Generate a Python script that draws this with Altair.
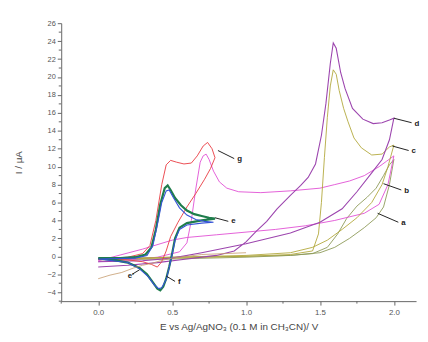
import altair as alt
import pandas as pd

# ---- data (E in V, I in uA) ----
d_E = [0.0,0.2,0.4,0.6,0.8,0.92,1.0,1.07,1.14,1.21,1.3,1.37,1.42,1.47,1.51,1.54,1.57,1.59,1.61,1.64,1.67,1.72,1.79,1.86,1.92,1.97,2.0,
       1.97,1.92,1.85,1.75,1.65,1.5,1.3,1.0,0.7,0.5,0.3,0.0]
d_I = [-1.2,-1.0,-0.7,-0.3,0.1,0.6,1.6,2.8,3.9,5.3,6.8,7.9,8.8,10.3,13.5,17,21.5,23.8,23.2,20.5,18.7,16.5,15.3,14.8,14.9,15.2,15.4,
       13,10.8,9.3,7.2,5.3,3.8,2.6,1.4,0.4,-0.2,-0.5,-0.6]

c_E = [0,0.5,1.0,1.3,1.45,1.49,1.51,1.53,1.55,1.57,1.59,1.61,1.63,1.66,1.69,1.73,1.78,1.85,1.92,1.97,2.0,
       1.96,1.92,1.85,1.75,1.65,1.55,1.45,1.3,1.0,0.5,0.0]
c_I = [-0.3,-0.2,0,0.2,0.6,2.5,6,11,15.5,19,20.8,20.3,18.5,16.5,15,13.2,12.1,11.3,11.4,12.2,12.4,
       10,8,6,4.3,3.0,1.8,1.0,0.4,0.1,-0.1,-0.3]

b_E = [0,0.2,0.4,0.55,0.6,0.63,0.66,0.69,0.71,0.73,0.75,0.78,0.82,0.87,0.95,1.1,1.3,1.5,1.6,1.7,1.8,1.9,1.95,2.0,
       1.96,1.9,1.8,1.6,1.4,1.2,1.0,0.8,0.6,0.5,0.3,0.0]
b_I = [-0.6,-0.4,-0.1,0.5,1.5,4,7.5,10.5,11.2,11.4,10.8,9.5,8.3,7.6,7.2,7.1,7.3,7.6,8.0,8.4,9,10,10.6,11.2,
       8,5.8,4.8,4.0,3.4,3.0,2.7,2.4,2.1,1.8,0.8,-0.5]

a_E = [0,0.5,1.0,1.3,1.45,1.55,1.62,1.68,1.75,1.82,1.88,1.93,1.97,2.0,
       1.97,1.93,1.88,1.8,1.7,1.6,1.5,1.3,1.0,0.5,0]
a_I = [-0.4,-0.3,-0.1,0.1,0.3,1.0,2.5,4.2,5.6,6.6,7.6,9,10.2,10.8,
       8,5.5,4.3,3.2,2.0,1.0,0.4,0.1,0,-0.1,-0.3]

g_E = [0,0.2,0.3,0.35,0.39,0.43,0.46,0.49,0.53,0.58,0.63,0.67,0.71,0.74,0.77,0.79,
       0.76,0.72,0.66,0.6,0.54,0.49,0.46,0.43,0.4,0.36,0.3,0.2,0.0]
g_I = [-0.3,-0.1,0.3,1.2,4,8,10.2,10.7,10.5,10.3,10.4,11.2,12.3,12.7,12,11,
       9.8,8.6,7,5.5,3.8,2.2,0.6,-0.6,-1.2,-0.9,-0.6,-0.4,-0.3]

e_E = [0,0.15,0.25,0.32,0.36,0.39,0.42,0.45,0.47,0.49,0.52,0.56,0.6,0.65,0.7,0.75,0.79,
       0.7,0.6,0.55,0.52,0.5,0.48,0.46,0.44,0.42,0.4,0.37,0.33,0.28,0.2,0.1,0]
e_I = [-0.2,-0.2,-0.1,0.2,1.0,3,5.8,7.6,7.9,7.4,6.5,5.7,5.1,4.7,4.5,4.3,4.2,
       4.0,3.7,3.2,2.0,0.3,-1.2,-2.5,-3.4,-3.8,-3.6,-2.9,-2.0,-1.3,-0.7,-0.4,-0.2]

f_E = [0,0.25,0.33,0.37,0.4,0.43,0.46,0.48,0.51,0.55,0.6,0.66,0.72,0.78,
       0.7,0.6,0.55,0.52,0.5,0.48,0.46,0.43,0.41,0.38,0.34,0.28,0.2,0.0]
f_I = [-0.3,-0.2,0.1,1.2,3.5,6.0,7.3,7.4,6.5,5.4,4.6,4.1,3.9,3.8,
       3.7,3.5,3.0,1.8,0.2,-1.3,-2.6,-3.5,-3.6,-3.2,-2.3,-1.4,-0.7,-0.3]

h_E = [0,0.08,0.16,0.24,0.3,0.36,0.42,0.5,0.7,1.0]
h_I = [-2.5,-2.1,-1.8,-1.3,-1.0,-0.8,-0.5,-0.2,0.2,0.4]

series_names = ["a", "b", "c", "d", "g", "e", "f", "h"]
series_E = [a_E, b_E, c_E, d_E, g_E, e_E, f_E, h_E]
series_I = [a_I, b_I, c_I, d_I, g_I, e_I, f_I, h_I]
series_colors = ["#8d9a58", "#e04fd4", "#b2a83c", "#9c45ae", "#e8383f", "#1f7d4c", "#3553d6", "#c49a6c"]
series_widths = [0.9, 0.9, 0.9, 1.1, 0.9, 2.2, 1.1, 0.8]

# labels and leader lines
lab_text = ["d", "c", "b", "a", "g", "e", "f", "e'"]
lab_E = [2.14, 2.12, 2.07, 2.05, 0.94, 0.9, 0.54, 0.2]
lab_I = [14.8, 11.7, 7.3, 3.7, 10.8, 3.9, -2.9, -2.2]
lead_E1 = [2.0, 1.99, 1.93, 1.89, 0.81, 0.79, 0.46, 0.28]
lead_I1 = [15.4, 12.3, 8.1, 4.8, 11.8, 4.3, -2.2, -1.5]
lead_E2 = [2.12, 2.1, 2.05, 2.03, 0.92, 0.88, 0.52, 0.23]
lead_I2 = [14.9, 11.8, 7.4, 3.8, 10.9, 3.9, -2.8, -2.0]

x_major = [0.0, 0.5, 1.0, 1.5, 2.0]
x_minor = [-0.25, 0.25, 0.75, 1.25, 1.75]
y_major = list(range(-4, 27, 2))
y_minor = list(range(-5, 26, 2))

W, H = 360, 282

rows = []
for n, Es, Is in zip(series_names, series_E, series_I):
    for k, (e, i) in enumerate(zip(Es, Is)):
        rows.append({"s": n, "k": k, "E": e, "I": i})
df = pd.DataFrame(rows)

xs = alt.Scale(domain=[-0.25, 2.15], nice=False, zero=False)
ys = alt.Scale(domain=[-5, 26], nice=False, zero=False)

font = "Liberation Sans"

x_axis = alt.Axis(values=x_major, format=".1f", title="E vs Ag/AgNO₃ (0.1 M in CH₃CN)/ V",
                  grid=False, tickSize=4, labelPadding=4, titlePadding=5,
                  labelFontSize=8, titleFontSize=10, titleFontWeight="normal",
                  labelColor="#555", titleColor="#444", domainColor="#666", tickColor="#666",
                  labelFont=font, titleFont=font)
y_axis = alt.Axis(values=y_major, title="I / μA", grid=False, tickSize=4, labelPadding=2,
                  labelOverlap=False, labelFlush=False,
                  titleX=-38, labelFontSize=7.5, titleFontSize=10, titleFontWeight="normal",
                  labelColor="#555", titleColor="#444", domainColor="#666", tickColor="#666",
                  labelFont=font, titleFont=font)

def X(f):
    return alt.X(f, type="quantitative", scale=xs, axis=x_axis)

def Y(f):
    return alt.Y(f, type="quantitative", scale=ys, axis=y_axis)

layers = []
for idx, n in enumerate(series_names):
    layers.append(
        alt.Chart(df[df.s == n]).mark_line(
            color=series_colors[idx], strokeWidth=series_widths[idx], clip=True
        ).encode(x=X("E"), y=Y("I"), order="k:Q")
    )

xm = pd.DataFrame({"E": x_minor})
ym = pd.DataFrame({"I": y_minor})
minor_x = alt.Chart(xm).mark_rule(color="#666", strokeWidth=1).encode(
    x=X("E"), y=alt.value(H), y2=alt.value(H + 2.5))
minor_y = alt.Chart(ym).mark_rule(color="#666", strokeWidth=1).encode(
    y=Y("I"), x=alt.value(0), x2=alt.value(-2.5))

lead = pd.DataFrame({"E1": lead_E1, "I1": lead_I1, "E2": lead_E2, "I2": lead_I2})
leaders = alt.Chart(lead).mark_rule(color="#222", strokeWidth=1).encode(
    x=X("E1"), y=Y("I1"), x2="E2:Q", y2="I2:Q")

labs = pd.DataFrame({"t": lab_text, "E": lab_E, "I": lab_I})
texts = alt.Chart(labs).mark_text(fontSize=8, font=font, fontWeight="bold", color="#222",
                                  align="left", baseline="middle").encode(
    x=X("E"), y=Y("I"), text="t:N")

chart = alt.layer(*layers, minor_x, minor_y, leaders, texts).properties(
    width=W, height=H,
    padding={"left": 54, "top": 13, "right": 4, "bottom": 36},
    autosize=alt.AutoSizeParams(type="none"),
).configure_view(stroke=None)

chart.save("out.html", embed_options={"renderer": "svg", "actions": False})
